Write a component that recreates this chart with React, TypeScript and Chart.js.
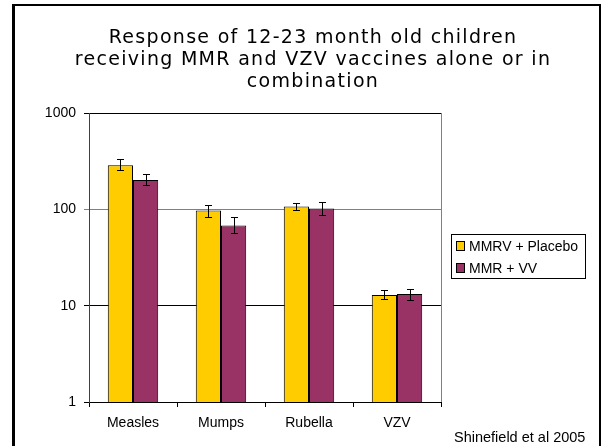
import { useEffect, useRef } from "react";
import { Chart, registerables } from "chart.js";

Chart.register(...registerables);

// Antibody response (GMT) by antigen, log scale
const categories = ["Measles", "Mumps", "Rubella", "VZV"];
const seriesNames = ["MMRV + Placebo", "MMR + VV"];
const seriesColors = ["#FFCC00", "#993366"];

const mmrvPlacebo = [287, 97, 107, 12.9];
const mmrvPlaceboLow = [259, 84, 98, 11.8];
const mmrvPlaceboHigh = [331, 110, 116, 14.4];

const mmrVv = [202, 68, 102, 13.2];
const mmrVvLow = [181, 57, 88, 11.5];
const mmrVvHigh = [232, 83, 120, 15.0];

const yTicks = [1, 10, 100, 1000];

const titleLines = [
  "Response of 12-23 month old children",
  "receiving MMR and VZV vaccines alone or in",
  "combination",
];
const sourceNote = "Shinefield et al 2005";

const SANS = '"Liberation Sans", Arial, sans-serif';
const TITLE_FONT = '"DejaVu Sans", Verdana, sans-serif';

// Slide frame, title, plot border, legend box and source note
const decorations = {
  id: "decorations",
  beforeDraw(chart: any) {
    const { ctx, width, height } = chart;
    ctx.save();
    ctx.fillStyle = "#fff";
    ctx.fillRect(0, 0, width, height);
    ctx.restore();
  },
  afterDraw(chart: any) {
    const { ctx, chartArea } = chart;
    ctx.save();

    // frame
    ctx.fillStyle = "#000";
    ctx.fillRect(12, 4, 3, 460);
    ctx.fillRect(12, 4, 589, 2);
    ctx.fillRect(599, 4, 2, 460);

    // right edge of the plot area
    ctx.strokeStyle = "#808080";
    ctx.lineWidth = 1;
    ctx.beginPath();
    ctx.moveTo(Math.round(chartArea.right) + 0.5, chartArea.top);
    ctx.lineTo(Math.round(chartArea.right) + 0.5, chartArea.bottom);
    ctx.stroke();

    // title
    ctx.fillStyle = "#000";
    ctx.font = `19px ${TITLE_FONT}`;
    ctx.textAlign = "center";
    ctx.textBaseline = "alphabetic";
    (ctx as any).letterSpacing = "1.3px";
    const baselines = [42.5, 64.5, 86.5];
    titleLines.forEach((line, i) => ctx.fillText(line, 313, baselines[i]));
    (ctx as any).letterSpacing = "0px";

    // legend
    const lx = 451, ly = 234, lw = 134, lh = 44;
    ctx.fillStyle = "#fff";
    ctx.fillRect(lx, ly, lw, lh);
    ctx.strokeStyle = "#000";
    ctx.strokeRect(lx + 0.5, ly + 0.5, lw, lh);
    ctx.font = `14px ${SANS}`;
    ctx.textAlign = "left";
    ctx.textBaseline = "middle";
    chart.data.datasets.forEach((ds: any, i: number) => {
      const cy = 246 + i * 22;
      ctx.fillStyle = ds.backgroundColor;
      ctx.fillRect(457, cy - 4, 7, 8);
      ctx.strokeRect(456.5, cy - 4.5, 8, 9);
      ctx.fillStyle = "#000";
      ctx.fillText(ds.label, 469, cy + 1);
    });

    // source
    ctx.font = `14.5px ${SANS}`;
    ctx.fillText(sourceNote, 454, 438);
    ctx.restore();
  },
};

// Error bars from each dataset's low/high arrays
const errorBars = {
  id: "errorBars",
  afterDatasetsDraw(chart: any) {
    const { ctx } = chart;
    const yScale = chart.scales.y;
    ctx.save();
    ctx.strokeStyle = "#000";
    ctx.lineWidth = 1;
    chart.data.datasets.forEach((ds: any, di: number) => {
      const meta = chart.getDatasetMeta(di);
      meta.data.forEach((bar: any, i: number) => {
        const x = Math.round(bar.x) + 0.5;
        const yHi = Math.round(yScale.getPixelForValue(ds.errHigh[i])) + 0.5;
        const yLo = Math.round(yScale.getPixelForValue(ds.errLow[i])) + 0.5;
        ctx.beginPath();
        ctx.moveTo(x, yHi);
        ctx.lineTo(x, yLo);
        ctx.moveTo(x - 3.5, yHi);
        ctx.lineTo(x + 3.5, yHi);
        ctx.moveTo(x - 3.5, yLo);
        ctx.lineTo(x + 3.5, yLo);
        ctx.stroke();
      });
    });
    ctx.restore();
  },
};

export default function App() {
  const canvasRef = useRef<HTMLCanvasElement | null>(null);

  useEffect(() => {
    if (!canvasRef.current) return;
    const barSettings = {
      borderColor: "#000",
      borderWidth: 1,
      categoryPercentage: 0.573,
      barPercentage: 1,
    };
    const chart = new Chart(canvasRef.current, {
      type: "bar",
      data: {
        labels: categories,
        datasets: [
          {
            label: seriesNames[0],
            data: mmrvPlacebo,
            backgroundColor: seriesColors[0],
            errLow: mmrvPlaceboLow,
            errHigh: mmrvPlaceboHigh,
            ...barSettings,
          } as any,
          {
            label: seriesNames[1],
            data: mmrVv,
            backgroundColor: seriesColors[1],
            errLow: mmrVvLow,
            errHigh: mmrVvHigh,
            ...barSettings,
          } as any,
        ],
      },
      options: {
        animation: false,
        responsive: true,
        maintainAspectRatio: false,
        layout: { padding: { top: 113, right: 161, bottom: 0, left: 0 } },
        plugins: {
          legend: { display: false },
          title: { display: false },
          tooltip: { enabled: false },
        },
        scales: {
          x: {
            offset: true,
            grid: {
              offset: true,
              drawOnChartArea: false,
              color: "#000",
              tickLength: 5,
            },
            border: { color: "#000" },
            ticks: {
              color: "#000",
              font: { family: SANS, size: 14 },
              padding: 8,
              maxRotation: 0,
            },
            afterFit: (s: any) => {
              s.height = 44;
            },
          },
          y: {
            type: "logarithmic",
            min: 1,
            max: 1000,
            afterBuildTicks: (s: any) => {
              s.ticks = yTicks.map((v) => ({ value: v, major: true }));
            },
            ticks: {
              color: "#000",
              font: { family: SANS, size: 14 },
              padding: 8,
              callback: (v: any) => String(v),
            },
            grid: {
              color: (c: any) => (c.tick && c.tick.value === 100 ? "#808080" : "#000"),
              tickLength: 5,
            },
            border: { color: "#404040" },
            afterFit: (s: any) => {
              s.width = 89;
            },
          },
        },
      },
      plugins: [decorations, errorBars],
    });
    return () => chart.destroy();
  }, []);

  return (
    <div
      style={{
        position: "fixed",
        left: 0,
        top: 0,
        width: 602,
        height: 446,
        background: "#fff",
      }}
    >
      <canvas ref={canvasRef} />
    </div>
  );
}
